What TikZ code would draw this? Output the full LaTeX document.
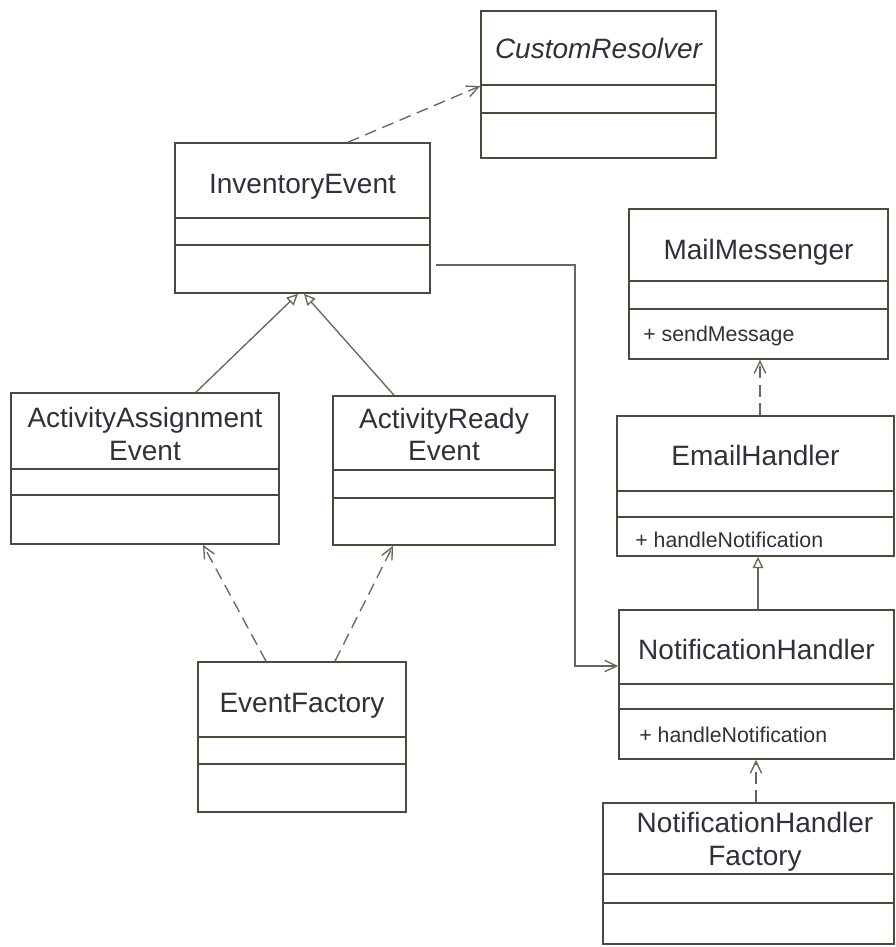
\documentclass[tikz,border=0pt]{standalone}
\usepackage{fontspec}
\setmainfont{Liberation Sans}
\usetikzlibrary{arrows.meta,fit}
\definecolor{umlline}{HTML}{4A4A3E}
\definecolor{umlconn}{HTML}{66665A}
\definecolor{umltext}{HTML}{30303A}
\tikzset{
  classbox/.style={draw=umlline,line width=1.2pt,inner sep=0pt},
  divider/.style={draw=umlline,line width=1.2pt},
  title/.style={anchor=base,inner sep=0pt,text=umltext,font=\fontsize{21pt}{25pt}\selectfont},
  method/.style={anchor=base west,inner sep=0pt,text=umltext,font=\fontsize{16pt}{19pt}\selectfont},
  depend/.style={draw=umlconn,line width=1pt,dash pattern=on 9pt off 5pt,-{Straight Barb[length=9pt,width=8.5pt]}},
  inherit/.style={draw=umlconn,line width=1pt,-{Triangle[open,length=8.5pt,width=8pt,fill=white]}},
  assoc/.style={draw=umlconn,line width=1pt,-{Straight Barb[length=9pt,width=8.5pt]}},
}
\begin{document}
\begin{tikzpicture}[x=0.75pt,y=-0.75pt]
    \useasboundingbox (0,0) rectangle (896,947);
    % classes
    \node[classbox,fit={(481,11) (716,158)}] (cr) {};
    \node[title,font=\fontsize{21pt}{25pt}\selectfont\itshape] at (cr.north |- 0,58) {CustomResolver};
    \draw[divider] (cr.west |- 0,85) -- (cr.east |- 0,85) (cr.west |- 0,113) -- (cr.east |- 0,113);

    \node[classbox,fit={(175,143) (430,293)}] (ie) {};
    \node[title] at (ie.north |- 0,193) {InventoryEvent};
    \draw[divider] (ie.west |- 0,218) -- (ie.east |- 0,218) (ie.west |- 0,245) -- (ie.east |- 0,245);

    \node[classbox,fit={(11,393) (279,544)}] (aae) {};
    \node[title] at (aae.north |- 0,427) {ActivityAssignment};
    \node[title] at (aae.north |- 0,460) {Event};
    \draw[divider] (aae.west |- 0,469) -- (aae.east |- 0,469) (aae.west |- 0,495) -- (aae.east |- 0,495);

    \node[classbox,fit={(333,396) (555,545)}] (are) {};
    \node[title] at (are.north |- 0,428) {ActivityReady};
    \node[title] at (are.north |- 0,460) {Event};
    \draw[divider] (are.west |- 0,470) -- (are.east |- 0,470) (are.west |- 0,498) -- (are.east |- 0,498);

    \node[classbox,fit={(198,662) (406,812)}] (ef) {};
    \node[title] at (ef.north |- 0,712) {EventFactory};
    \draw[divider] (ef.west |- 0,737) -- (ef.east |- 0,737) (ef.west |- 0,764) -- (ef.east |- 0,764);

    \node[classbox,fit={(629,209) (888,359)}] (mm) {};
    \node[title] at (mm.north |- 0,259) {MailMessenger};
    \draw[divider] (mm.west |- 0,281) -- (mm.east |- 0,281) (mm.west |- 0,309) -- (mm.east |- 0,309);
    \node[method] at (643,341) {+ sendMessage};

    \node[classbox,fit={(617,416) (894,556)}] (eh) {};
    \node[title] at (eh.north |- 0,465) {EmailHandler};
    \draw[divider] (eh.west |- 0,491) -- (eh.east |- 0,491) (eh.west |- 0,517) -- (eh.east |- 0,517);
    \node[method] at (635,547) {+ handleNotification};

    \node[classbox,fit={(619,610) (894,759)}] (nh) {};
    \node[title] at (nh.north |- 0,659) {NotificationHandler};
    \draw[divider] (nh.west |- 0,684) -- (nh.east |- 0,684) (nh.west |- 0,709) -- (nh.east |- 0,709);
    \node[method] at (639,742) {+ handleNotification};

    \node[classbox,fit={(603,803) (894,944)}] (nhf) {};
    \node[title] at (755,832) {NotificationHandler};
    \node[title] at (755,865) {Factory};
    \draw[divider] (nhf.west |- 0,874) -- (nhf.east |- 0,874) (nhf.west |- 0,903) -- (nhf.east |- 0,903);

    % relations
    \draw[depend] (ie.north -| 348,0) -- (cr.west |- 0,86);
    \draw[inherit] (aae.north -| 196,0) -- (ie.south -| 298,0);
    \draw[inherit] (are.north -| 394,0) -- (ie.south -| 304,0);
    \draw[depend] (ef.north -| 266,0) -- (aae.south -| 203,0);
    \draw[depend] (ef.north -| 335,0) -- (are.south -| 393,0);
    \coordinate (bend) at (575,666);
    \draw[assoc,shorten <=4pt] (ie.east |- 0,265) -| (bend) -- (nh.west |- bend);
    \draw[depend] (eh.north -| 760,0) -- (mm.south -| 760,0);
    \draw[inherit] (nh.north -| 758,0) -- (eh.south -| 758,0);
    \draw[depend] (nhf.north -| 756,0) -- (nh.south -| 756,0);
\end{tikzpicture}
\end{document}
